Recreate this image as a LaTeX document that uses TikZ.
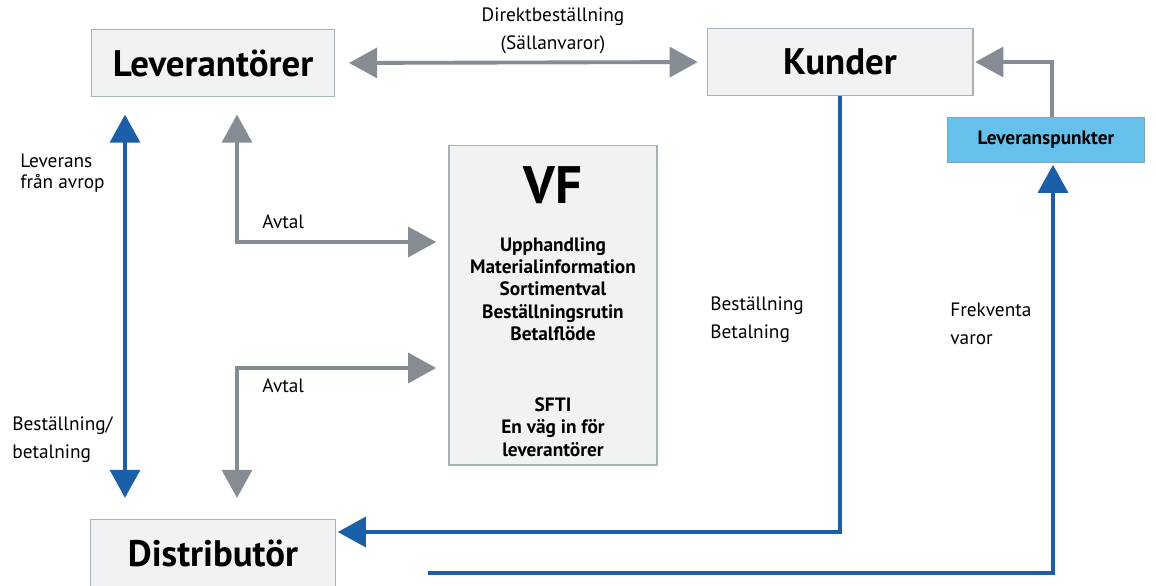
\documentclass[tikz,border=0pt]{standalone}
\usepackage{fontspec}
\setmainfont{PT Sans}
\usetikzlibrary{arrows.meta}
\definecolor{boxfill}{HTML}{F1F2F3}
\definecolor{boxline}{HTML}{A7B1B8}
\definecolor{lpfill}{HTML}{66C0EC}
\definecolor{lpline}{HTML}{7FA6BE}
\definecolor{flowblue}{HTML}{1B5FA8}
\definecolor{flowgray}{HTML}{868C93}

\begin{document}
\begin{tikzpicture}[x=0.02cm,y=-0.02cm,
  box/.style={draw=boxline,fill=boxfill,line width=0.6pt,inner sep=0pt},
  title/.style={font=\fontsize{21}{24}\selectfont\bfseries},
  lbl/.style={font=\fontsize{11}{16}\selectfont,align=left,anchor=west,inner sep=0pt},
  gr/.style={draw=flowgray,line width=2.2pt,-{Triangle[length=16pt,width=17pt]},
    shorten >=3pt},
  bl/.style={draw=flowblue,line width=2.2pt,-{Triangle[length=16pt,width=17pt]},
    shorten >=1pt}]
\useasboundingbox (0,0) rectangle (1156,585);
% boxes
\node[box,title,minimum width=4.86cm,minimum height=1.34cm] (lev) at (213,63) {Leverantörer};
\node[box,title,minimum width=5.32cm,minimum height=1.34cm] (kun) at (840,62) {Kunder};
\node[box,title,minimum width=4.90cm,minimum height=1.34cm] (dis) at (213,553) {Distributör};
\node[draw=lpline,fill=lpfill,line width=0.6pt,minimum width=3.94cm,minimum height=0.9cm,
  font=\fontsize{11}{13}\selectfont\bfseries] (lp) at (1046,140) {Leveranspunkter};
\node[box,minimum width=4.16cm,minimum height=6.4cm] (vf) at (553,305) {};
\node[font=\fontsize{30}{32}\selectfont\bfseries] (vft) at (553,185) {VF};
\node[align=center,font=\fontsize{11}{12.7}\selectfont\bfseries] (vfl) at (553,289)
  {Upphandling\\Materialinformation\\Sortimentval\\Beställningsrutin\\Betalflöde};
\node[align=center,font=\fontsize{11}{12.7}\selectfont\bfseries] (sfti) at (553,427)
  {SFTI\\En väg in för\\leverantörer};
% bend points
\coordinate (c1) at (125,0);
\coordinate (a1) at (237,242);
\coordinate (a2) at (237,368);
\coordinate (b1) at (840,532);
\coordinate (b2) at (428,573);
\coordinate (b3) at (1053,573);
\coordinate (g1) at (1052,0);
% connectors
\draw[gr,{Triangle[length=16pt,width=17pt]}-{Triangle[length=16pt,width=17pt]},
  shorten <=8pt,shorten >=5pt] (lev.east) -- (kun.west);
\draw[bl,{Triangle[length=16pt,width=17pt]}-{Triangle[length=16pt,width=17pt]},
  shorten <=10pt,shorten >=12pt] (lev.south -| c1) -- (dis.north -| c1);
\draw[gr,{Triangle[length=16pt,width=17pt]}-{Triangle[length=16pt,width=17pt]},
  shorten <=10pt,shorten >=7pt] (lev.south -| a1) -- (a1) -- (vf.west |- a1);
\draw[gr,{Triangle[length=16pt,width=17pt]}-{Triangle[length=16pt,width=17pt]},
  shorten <=12pt,shorten >=7pt] (dis.north -| a2) -- (a2) -- (vf.west |- a2);
\draw[bl] (kun.south -| b1) -- (b1) -- (dis.east |- b1);
\draw[bl] (b2) -- (b3) -- (lp.south -| b3);
\draw[gr,shorten >=1pt] (lp.north -| g1) |- (kun.east);
% labels
\node[lbl,align=center,anchor=center] (dir) at (553,31) {Direktbeställning\\(Sällanvaror)};
\node[lbl,font=\fontsize{11}{12}\selectfont] (lfa) at (20,173) {Leverans\\från avrop};
\node[lbl] (bb) at (12,440) {Beställning/\\betalning};
\node[lbl] (av1) at (262,222) {Avtal};
\node[lbl] (av2) at (262,386) {Avtal};
\node[lbl] (kb) at (710,320) {Beställning\\Betalning};
\node[lbl] (fv) at (950,324) {Frekventa\\varor};
\end{tikzpicture}
\end{document}
